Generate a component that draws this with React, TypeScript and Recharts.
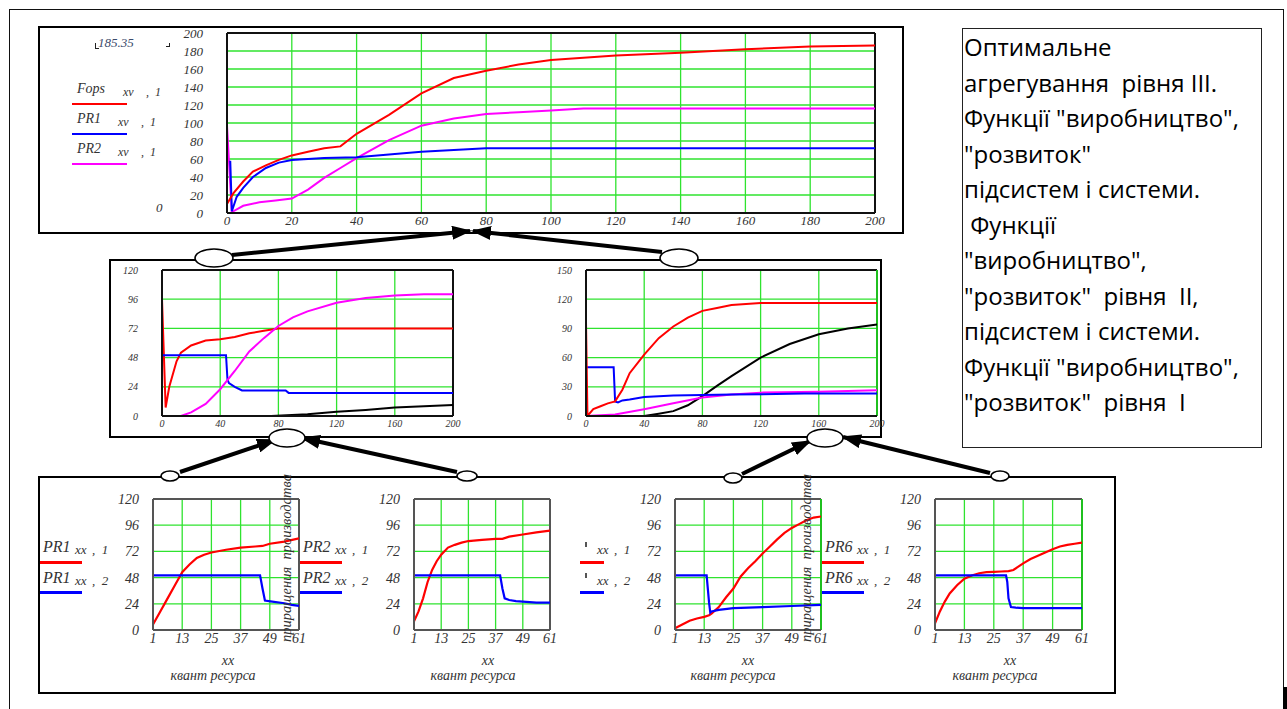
import React from 'react';
import { LineChart, Line, XAxis, YAxis, CartesianGrid, ReferenceLine } from 'recharts';

const GRID = '#2fe32f';
const RED = '#ff0000';
const BLUE = '#0000ff';
const MAG = '#ff00ff';
const BLACK = '#000000';
const SERIF = '"Liberation Serif", "DejaVu Serif", serif';
const SANS = '"Open Sans", "Noto Sans", sans-serif';

// level III (top)
const topXTicks = [0, 20, 40, 60, 80, 100, 120, 140, 160, 180, 200];
const topYTicks = [0, 20, 40, 60, 80, 100, 120, 140, 160, 180, 200];
const fopsX = [0, 2, 5, 8, 12, 16, 20, 25, 30, 35, 40, 50, 60, 70, 80, 90, 100, 120, 140, 160, 180, 200];
const fopsY = [10, 22, 35, 46, 53, 59, 64, 68, 72, 74, 88, 109, 133, 150, 158, 165, 170, 175, 178, 182, 185, 186];
const topPr1X = [1, 1.5, 3, 5, 8, 12, 16, 20, 30, 40, 50, 60, 70, 80, 200];
const topPr1Y = [58, 2, 18, 28, 40, 50, 56, 59, 61, 62, 65, 68, 70, 72, 72];
const topPr2X = [0, 1.5, 2, 5, 10, 15, 20, 25, 30, 35, 40, 50, 60, 70, 80, 90, 100, 110, 200];
const topPr2Y = [97, 0, 2, 8, 12, 14, 16, 26, 39, 50, 61, 81, 97, 105, 110, 112, 114, 116, 116];

// level II
const midXTicks = [0, 40, 80, 120, 160, 200];
const midLeftYTicks = [0, 24, 48, 72, 96, 120];
const midRightYTicks = [0, 30, 60, 90, 120, 150];
const mlRedX = [0, 2.5, 5, 10, 13, 20, 30, 40, 50, 60, 70, 80, 200];
const mlRedY = [96, 7, 24, 45, 52, 58, 62, 63, 65, 68, 70, 72, 72];
const mlBlueX = [0, 44, 45, 46, 50, 55, 85, 87, 200];
const mlBlueY = [50, 50, 30, 27, 24, 21, 21, 19, 19];
const mlMagX = [0, 13, 20, 30, 40, 50, 60, 70, 80, 90, 100, 120, 140, 160, 180, 200];
const mlMagY = [0, 0, 3, 10, 22, 37, 53, 64, 74, 81, 86, 93, 97, 99, 100, 100];
const mlBlackX = [0, 75, 100, 120, 140, 160, 180, 200];
const mlBlackY = [0, 0, 1.5, 3.5, 5, 7, 8, 9];

const mrRedX = [0, 1, 5, 10, 15, 20, 25, 30, 40, 50, 60, 70, 80, 90, 100, 120, 200];
const mrRedY = [97, 0, 7, 10, 13, 15, 27, 44, 63, 80, 92, 101, 108, 111, 114, 116, 116];
const mrBlueX = [0, 19, 20, 22, 25, 30, 40, 60, 80, 100, 150, 200];
const mrBlueY = [50, 50, 15, 14, 16, 17, 19.5, 21, 21.5, 22, 23, 23];
const mrMagX = [0, 20, 40, 60, 80, 100, 120, 160, 200];
const mrMagY = [0, 1.5, 7, 13, 19, 22, 24, 25, 26.5];
const mrBlackX = [0, 40, 50, 60, 70, 80, 90, 100, 120, 140, 160, 180, 200];
const mrBlackY = [0, 0, 2.4, 5, 11, 20.5, 31, 41, 60, 74, 84, 90, 94];

// level I (bottom)
const lowXTicks = [1, 13, 25, 37, 49, 61];
const lowYTicks = [0, 24, 48, 72, 96, 120];
const b1RedX = [1, 4, 7, 10, 13, 16, 19, 22, 25, 31, 37, 43, 46, 49, 55, 61];
const b1RedY = [5, 17, 29, 41, 53, 60, 66, 69, 71, 73.5, 75.5, 76.5, 77, 79, 81, 84];
const b1BlueX = [1, 45, 46, 47, 50, 55, 58, 61];
const b1BlueY = [50, 50, 38, 27, 26, 24.5, 23, 22];
const b2RedX = [1, 3, 5, 7, 9, 11, 13, 16, 19, 22, 25, 31, 37, 40, 43, 49, 55, 61];
const b2RedY = [8, 17, 29, 44, 55, 63, 69, 75.5, 78, 80, 81.5, 82.5, 83.5, 83.5, 85.5, 87.5, 89.5, 91];
const b2BlueX = [1, 39, 40, 41, 43, 46, 49, 55, 61];
const b2BlueY = [50, 50, 38, 29, 27.5, 26.5, 26, 25, 25];
const b3RedX = [1, 4, 7, 10, 13, 15, 16, 19, 22, 25, 28, 31, 34, 37, 40, 43, 46, 49, 52, 55, 58, 61];
const b3RedY = [1.5, 5, 8.5, 10.5, 12, 13.5, 15, 21, 30, 38, 49, 56.5, 63, 70, 76.5, 83, 89, 93.5, 97, 100.5, 103, 104];
const b3BlueX = [1, 14, 15, 15.5, 16, 19, 25, 37, 49, 61];
const b3BlueY = [50, 50, 25, 16, 17, 18.5, 20, 21, 22, 23];
const b4RedX = [1, 3, 5, 7, 10, 13, 16, 19, 22, 25, 28, 31, 33, 35, 37, 40, 43, 46, 49, 52, 55, 58, 61];
const b4RedY = [6, 17, 26, 33.5, 41, 47, 50, 52, 53, 53.3, 53.6, 54, 55, 58, 61, 65, 68, 71, 74, 76.5, 78, 79, 80];
const b4BlueX = [1, 30, 30.5, 31, 32, 34, 37, 61];
const b4BlueY = [50, 50, 44, 29, 21, 20.5, 20, 20];

const noteLines = [
  'Оптимальне',
  'агрегування  рівня III.',
  'Функції "виробництво",',
  '"розвиток"',
  'підсистем і системи.',
  ' Функції',
  '"виробництво",',
  '"розвиток"  рівня  II,',
  'підсистем і системи.',
  'Функції "виробництво",',
  '"розвиток"  рівня  І',
];

type Series = { xs: number[]; ys: number[]; color: string };

interface PlotProps {
  left: number; top: number; w: number; h: number;
  xDomain: [number, number]; xTicks: number[];
  yDomain: [number, number]; yTicks: number[];
  series: Series[];
  fontSize: number; yGap: number; xGap: number;
  frame: string; rightEdge?: string; lineWidth: number;
}

function Plot(p: PlotProps) {
  const yw = 50, xh = 30, mt = 12, mr = 12;
  const tick = { fill: '#333', fontSize: p.fontSize, fontFamily: SERIF, fontStyle: 'italic' };
  return (
    <div style={{ position: 'absolute', left: p.left - yw, top: p.top - mt }}>
      <LineChart width={yw + p.w + mr} height={mt + p.h + xh}
        margin={{ top: mt, right: mr, left: 0, bottom: 0 }} style={{ overflow: 'visible' }}>
        <CartesianGrid stroke={GRID} strokeWidth={1.3} />
        <XAxis type="number" dataKey="x" domain={p.xDomain} ticks={p.xTicks} interval={0}
          height={xh} tickSize={0} tickMargin={p.xGap} tickLine={false}
          axisLine={{ stroke: p.frame, strokeWidth: 2 }} tick={tick} allowDataOverflow />
        <YAxis type="number" domain={p.yDomain} ticks={p.yTicks} interval={0}
          width={yw} tickSize={0} tickMargin={p.yGap} tickLine={false}
          axisLine={{ stroke: p.frame, strokeWidth: 2 }} tick={tick} allowDataOverflow />
        <ReferenceLine y={p.yDomain[1]} stroke={p.frame} strokeWidth={2} />
        <ReferenceLine x={p.xDomain[1]} stroke={p.rightEdge || p.frame} strokeWidth={2} />
        {p.series.map((s, i) => (
          <Line key={i} data={s.xs.map((x, j) => ({ x, y: s.ys[j] }))} dataKey="y" type="linear"
            stroke={s.color} strokeWidth={p.lineWidth} dot={false} isAnimationActive={false} />
        ))}
      </LineChart>
    </div>
  );
}

const abs = (left: number, top: number, extra: React.CSSProperties = {}): React.CSSProperties => ({
  position: 'absolute', left, top, lineHeight: 1, whiteSpace: 'pre', ...extra,
});

function TopLegend({ name, y, color }: { name: string; y: number; color: string }) {
  const f: React.CSSProperties = { fontFamily: SERIF, fontStyle: 'italic', color: '#333' };
  return (
    <>
      <span style={abs(77, y - 7, { ...f, fontSize: 14 })}>{name}</span>
      <span style={abs(name === 'Fops' ? 123 : 118, y - 3, { ...f, fontSize: 12 })}>xv</span>
      <span style={abs(name === 'Fops' ? 146 : 141, y - 3, { ...f, fontSize: 12 })}>,  1</span>
      <div style={abs(72, y + 14, { width: 55, height: 2, background: color })} />
    </>
  );
}

function LowLegend({ x, name }: { x: number; name?: string }) {
  const f: React.CSSProperties = { fontFamily: SERIF, fontStyle: 'italic', color: '#333' };
  const lineLeft = name ? x - 3 : x + 15;
  const lineW = name ? 42 : 24;
  return (
    <>
      {name && <span style={abs(x, 539, { ...f, fontSize: 16 })}>{name}</span>}
      {!name && <div style={abs(x + 20, 542, { width: 1.5, height: 5, background: '#555' })} />}
      <span style={abs(x + 32, 543, { ...f, fontSize: 13 })}>xx</span>
      <span style={abs(x + 49, 543, { ...f, fontSize: 13 })}>,  1</span>
      <div style={abs(lineLeft, 561, { width: lineW, height: 2.5, background: RED })} />
      {name && <span style={abs(x, 570, { ...f, fontSize: 16 })}>{name}</span>}
      {!name && <div style={abs(x + 20, 573, { width: 1.5, height: 5, background: '#555' })} />}
      <span style={abs(x + 32, 574, { ...f, fontSize: 13 })}>xx</span>
      <span style={abs(x + 49, 574, { ...f, fontSize: 13 })}>,  2</span>
      <div style={abs(lineLeft, 591, { width: lineW, height: 2.5, background: BLUE })} />
    </>
  );
}

function AxisCaption({ cx }: { cx: number }) {
  const f: React.CSSProperties = { fontFamily: SERIF, fontStyle: 'italic', color: '#333', fontSize: 14, transform: 'translateX(-50%)' };
  return (
    <>
      <span style={abs(cx + 15, 654, f)}>xx</span>
      <span style={abs(cx, 669, f)}>квант ресурса</span>
    </>
  );
}

function SideCaption({ cx }: { cx: number }) {
  return (
    <span style={abs(cx, 558, {
      fontFamily: SERIF, fontStyle: 'italic', color: '#333', fontSize: 14.5,
      transform: 'translate(-50%, -50%) rotate(-90deg)',
    })}>приращения  производства</span>
  );
}

export default function App() {
  const lowCommon = { top: 499, h: 131, xDomain: [1, 61] as [number, number], xTicks: lowXTicks, yDomain: [0, 120] as [number, number], yTicks: lowYTicks, fontSize: 14, yGap: 14, xGap: 3, frame: '#555', lineWidth: 2.2 };
  return (
    <div style={{ position: 'relative', width: 1287, height: 709, background: '#fff', overflow: 'hidden' }}>
      <style>{'body{margin:0}'}</style>
      {/* frames */}
      <div style={abs(9, 9, { width: 1273, height: 720, borderTop: '1.5px solid #111', borderLeft: '1.5px solid #111', borderRight: '1.5px solid #111' })} />
      <div style={abs(1283, 687, { width: 4, height: 22, background: '#000' })} />
      <div style={abs(38, 26, { width: 862, height: 204, border: '2px solid #000' })} />
      <div style={abs(109, 259, { width: 769, height: 175, border: '2px solid #000' })} />
      <div style={abs(38, 476, { width: 1074, height: 214, border: '2px solid #000' })} />
      <div style={abs(962, 28, { width: 298, height: 418, border: '1.5px solid #222' })} />

      {/* note */}
      <div style={abs(964, 29, { fontFamily: SANS, fontSize: 24, lineHeight: '35.5px', color: '#000' })}>
        {noteLines.map((l, i) => <div key={i}>{l}</div>)}
      </div>

      {/* level III */}
      <span style={abs(98, 36, { fontFamily: SERIF, fontStyle: 'italic', fontSize: 13, color: '#3b4a6b' })}>185.35</span>
      <div style={abs(95, 43, { width: 3, height: 5, borderLeft: '1.5px solid #222', borderBottom: '1.5px solid #222' })} />
      <div style={abs(166, 43, { width: 3, height: 3, borderRight: '1.5px solid #222', borderBottom: '1.5px solid #222' })} />
      <TopLegend name="Fops" y={89} color={RED} />
      <TopLegend name="PR1" y={119} color={BLUE} />
      <TopLegend name="PR2" y={149} color={MAG} />
      <span style={abs(156, 201, { fontFamily: SERIF, fontStyle: 'italic', fontSize: 13, color: '#333' })}>0</span>
      <Plot left={227} top={33} w={648} h={180} xDomain={[0, 200]} xTicks={topXTicks} yDomain={[0, 200]} yTicks={topYTicks}
        fontSize={13} yGap={24} xGap={3} frame="#111" lineWidth={2}
        series={[
          { xs: topPr2X, ys: topPr2Y, color: MAG },
          { xs: topPr1X, ys: topPr1Y, color: BLUE },
          { xs: fopsX, ys: fopsY, color: RED },
        ]} />

      {/* level II */}
      <Plot left={162} top={270} w={291} h={146} xDomain={[0, 200]} xTicks={midXTicks} yDomain={[0, 120]} yTicks={midLeftYTicks}
        fontSize={10} yGap={24} xGap={4} frame="#111" lineWidth={2}
        series={[
          { xs: mlBlackX, ys: mlBlackY, color: BLACK },
          { xs: mlRedX, ys: mlRedY, color: RED },
          { xs: mlBlueX, ys: mlBlueY, color: BLUE },
          { xs: mlMagX, ys: mlMagY, color: MAG },
        ]} />
      <Plot left={586} top={270} w={291} h={146} xDomain={[0, 200]} xTicks={midXTicks} yDomain={[0, 150]} yTicks={midRightYTicks}
        fontSize={10} yGap={14} xGap={4} frame="#111" rightEdge="#1fc01f" lineWidth={2}
        series={[
          { xs: mrBlackX, ys: mrBlackY, color: BLACK },
          { xs: mrMagX, ys: mrMagY, color: MAG },
          { xs: mrBlueX, ys: mrBlueY, color: BLUE },
          { xs: mrRedX, ys: mrRedY, color: RED },
        ]} />

      {/* level I */}
      <LowLegend x={43} name="PR1" />
      <LowLegend x={303} name="PR2" />
      <LowLegend x={565} />
      <LowLegend x={825} name="PR6" />
      <Plot {...lowCommon} left={153} w={146}
        series={[{ xs: b1RedX, ys: b1RedY, color: RED }, { xs: b1BlueX, ys: b1BlueY, color: BLUE }]} />
      <Plot {...lowCommon} left={414} w={136}
        series={[{ xs: b2RedX, ys: b2RedY, color: RED }, { xs: b2BlueX, ys: b2BlueY, color: BLUE }]} />
      <Plot {...lowCommon} left={675} w={146} rightEdge="#1fc01f"
        series={[{ xs: b3RedX, ys: b3RedY, color: RED }, { xs: b3BlueX, ys: b3BlueY, color: BLUE }]} />
      <Plot {...lowCommon} left={935} w={147} rightEdge="#1fc01f"
        series={[{ xs: b4RedX, ys: b4RedY, color: RED }, { xs: b4BlueX, ys: b4BlueY, color: BLUE }]} />
      <SideCaption cx={286} />
      <SideCaption cx={806} />
      <AxisCaption cx={213} />
      <AxisCaption cx={473} />
      <AxisCaption cx={733} />
      <AxisCaption cx={995} />

      {/* links between levels */}
      <svg width={1287} height={709} style={{ position: 'absolute', left: 0, top: 0, pointerEvents: 'none' }}>
        <defs>
          <marker id="head" markerUnits="userSpaceOnUse" markerWidth={20} markerHeight={14} refX={18} refY={7} orient="auto">
            <path d="M0,0 L20,7 L0,14 z" fill="#000" />
          </marker>
        </defs>
        <g stroke="#000" strokeWidth={4} markerEnd="url(#head)">
          <line x1={232} y1={255} x2={470} y2={231} />
          <line x1={662} y1={252} x2={473} y2={231} />
          <line x1={180} y1={472} x2={275} y2={440} />
          <line x1={457} y1={472} x2={302} y2={438} />
          <line x1={742} y1={474} x2={810} y2={441} />
          <line x1={990} y1={473} x2={843} y2={437} />
        </g>
        <g fill="#fff" stroke="#000" strokeWidth={1.6}>
          <ellipse cx={214} cy={258} rx={19} ry={9} />
          <ellipse cx={679} cy={258} rx={19} ry={9} />
          <ellipse cx={287} cy={438} rx={18} ry={9} />
          <ellipse cx={825} cy={438} rx={18} ry={9} />
          <ellipse cx={170} cy={476} rx={9} ry={5} />
          <ellipse cx={467} cy={476} rx={10} ry={5} />
          <ellipse cx={733} cy={478} rx={9} ry={5} />
          <ellipse cx={1000} cy={476} rx={9} ry={5} />
        </g>
      </svg>
    </div>
  );
}
